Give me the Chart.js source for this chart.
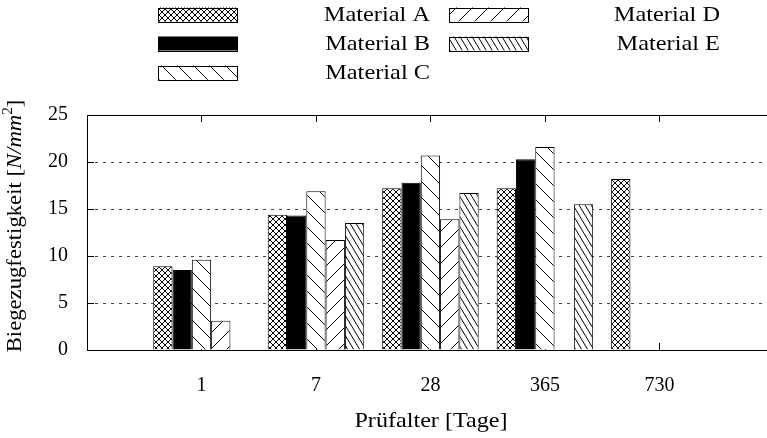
<!DOCTYPE html>
<html>
<head>
<meta charset="utf-8">
<script src="https://cdn.jsdelivr.net/npm/chart.js@4.4.1/dist/chart.umd.min.js"></script>
<style>
html, body { margin: 0; padding: 0; background: #fff; }
</style>
</head>
<body>
<canvas id="chart" width="767" height="438"></canvas>
<script>
// Prüfalter in Tagen (Kategorien der x-Achse)
const tage = ['1', '7', '28', '365', '730'];

// Biegezugfestigkeit [N/mm²] je Material, null = kein Messwert
const materialA = [8.9, 14.4, 17.2, 17.2, 18.2];
const materialB = [8.5, 14.3, 17.8, 20.3, null];
const materialC = [9.6, 16.9, 20.7, 21.6, null];
const materialD = [3.1, 11.7, 13.9, null, null];
const materialE = [null, 13.5, 16.7, 15.5, null];

const yTicks = [0, 5, 10, 15, 20, 25];

const serif = '"Liberation Serif", "Times New Roman", serif';

// Schraffur-Muster wie bei gnuplot
function makePattern(kind) {
    const c = document.createElement('canvas');
    let w = 16, h = 16;
    if (kind === 'cross') { w = 6; h = 6; }
    if (kind === 'steep') { w = 6; h = 10; }
    c.width = w; c.height = h;
    const g = c.getContext('2d');
    g.fillStyle = '#fff';
    g.fillRect(0, 0, w, h);
    g.strokeStyle = '#000';
    g.lineWidth = 1;
    g.beginPath();
    if (kind === 'cross' || kind === 'back' || kind === 'steep') {
        for (const dx of [-w, 0, w]) { g.moveTo(dx, 0); g.lineTo(dx + w, h); }
    }
    if (kind === 'cross' || kind === 'fwd') {
        for (const dx of [-w, 0, w]) { g.moveTo(dx, h); g.lineTo(dx + w, 0); }
    }
    g.stroke();
    return g.createPattern(c, 'repeat');
}

function toPoints(arr) {
    return arr.map((v, i) => ({ x: i, y: v }));
}

const datasets = [
    { label: 'Material A', data: toPoints(materialA), backgroundColor: makePattern('cross') },
    { label: 'Material B', data: toPoints(materialB), backgroundColor: '#000' },
    { label: 'Material C', data: toPoints(materialC), backgroundColor: makePattern('back') },
    { label: 'Material D', data: toPoints(materialD), backgroundColor: makePattern('fwd') },
    { label: 'Material E', data: toPoints(materialE), backgroundColor: makePattern('steep') }
].map(d => Object.assign(d, {
    borderColor: '#000',
    borderWidth: 1,
    borderSkipped: 'start',
    categoryPercentage: 0.843,
    barPercentage: 1
}));

// Text etwas breiter zeichnen (Computer-Modern-Optik)
function stretchText(ctx, text, x, y, sx, align) {
    ctx.save();
    ctx.translate(x, y);
    ctx.scale(sx, 1);
    ctx.textAlign = align;
    ctx.fillText(text, 0, 0);
    ctx.restore();
}

// Rahmen, Tickmarken, Legende und Achsentitel
const rahmenPlugin = {
    id: 'rahmen',
    beforeDatasetsDraw(chart) {
        const { ctx, chartArea: a, scales } = chart;
        ctx.save();
        ctx.strokeStyle = '#000';
        ctx.lineWidth = 1;
        ctx.beginPath();
        tage.forEach((_, i) => {
            const x = Math.round(scales.x.getPixelForValue(i)) + 0.5;
            ctx.moveTo(x, a.top); ctx.lineTo(x, a.top + 7);
            ctx.moveTo(x, a.bottom); ctx.lineTo(x, a.bottom - 7);
        });
        yTicks.forEach(v => {
            const y = Math.round(scales.y.getPixelForValue(v)) + 0.5;
            ctx.moveTo(a.left, y); ctx.lineTo(a.left + 7, y);
        });
        ctx.stroke();
        ctx.restore();
    },
    afterDatasetsDraw(chart) {
        const { ctx, chartArea: a } = chart;
        const l = Math.round(a.left) + 0.5, t = Math.round(a.top) + 0.5, b = Math.round(a.bottom) + 0.5;
        ctx.save();
        ctx.strokeStyle = '#000';
        ctx.lineWidth = 1;
        ctx.beginPath();
        ctx.moveTo(a.right, t); ctx.lineTo(l, t); ctx.lineTo(l, b); ctx.lineTo(a.right, b);
        ctx.stroke();
        ctx.restore();
    },
    afterDraw(chart) {
        const ctx = chart.ctx;
        ctx.save();
        // Legende: zwei Spalten, drei Zeilen
        const cols = [{ sx: 158, tx: 430 }, { sx: 449, tx: 720 }];
        chart.data.datasets.forEach((ds, i) => {
            const col = cols[Math.floor(i / 3)];
            const y = 14.5 + 29 * (i % 3);
            ctx.fillStyle = ds.backgroundColor;
            ctx.fillRect(col.sx, y - 7, 80, 14);
            ctx.strokeStyle = '#000';
            ctx.lineWidth = 1;
            ctx.strokeRect(col.sx + 0.5, Math.round(y - 7) + 0.5, 79, 14);
            ctx.fillStyle = '#000';
            ctx.font = '21px ' + serif;
            ctx.textBaseline = 'middle';
            stretchText(ctx, ds.label, col.tx, y + 1, 1.16, 'right');
        });

        // x-Achsentitel
        ctx.font = '21px ' + serif;
        ctx.textBaseline = 'middle';
        stretchText(ctx, 'Prüfalter [Tage]', 431, 421, 1.15, 'center');

        // y-Achsentitel mit kursivem Einheitenteil
        const parts = [
            { t: 'Biegezugfestigkeit [', f: '21px ' + serif, dy: 0 },
            { t: 'N/mm', f: 'italic 21px ' + serif, dy: 0 },
            { t: '2', f: '14px ' + serif, dy: -7 },
            { t: ']', f: '21px ' + serif, dy: 0 }
        ];
        let total = 0;
        parts.forEach(p => { ctx.font = p.f; p.w = ctx.measureText(p.t).width; total += p.w; });
        ctx.translate(15, 226);
        ctx.rotate(-Math.PI / 2);
        ctx.scale(1.08, 1);
        ctx.textAlign = 'left';
        let x = -total / 2;
        parts.forEach(p => {
            ctx.font = p.f;
            ctx.fillText(p.t, x, p.dy);
            x += p.w;
        });
        ctx.restore();
    }
};

new Chart(document.getElementById('chart'), {
    type: 'bar',
    data: { datasets: datasets },
    options: {
        responsive: false,
        animation: false,
        layout: { padding: { top: 115, left: 0, right: 0, bottom: 0 } },
        plugins: {
            legend: { display: false },
            tooltip: { enabled: false }
        },
        scales: {
            x: {
                type: 'linear',
                min: -1,
                max: 4.94,
                offset: false,
                afterBuildTicks: s => { s.ticks = tage.map((_, i) => ({ value: i })); },
                afterFit: s => { s.height = 88; },
                ticks: {
                    callback: v => tage[v],
                    font: { family: serif, size: 20 },
                    color: '#000',
                    padding: 24,
                    autoSkip: false,
                    maxRotation: 0
                },
                grid: { display: false, drawTicks: false },
                border: { display: false }
            },
            y: {
                min: 0,
                max: 25,
                afterBuildTicks: s => { s.ticks = yTicks.map(v => ({ value: v })); },
                afterFit: s => { s.width = 87; },
                ticks: {
                    font: { family: serif, size: 20 },
                    color: '#000',
                    padding: 19
                },
                grid: {
                    drawTicks: false,
                    lineWidth: 1,
                    color: c => (c.tick && (c.tick.value === 0 || c.tick.value === 25)) ? 'rgba(0,0,0,0)' : '#444'
                },
                border: { display: false, dash: [3, 5] }
            }
        }
    },
    plugins: [rahmenPlugin]
});
</script>
</body>
</html>
